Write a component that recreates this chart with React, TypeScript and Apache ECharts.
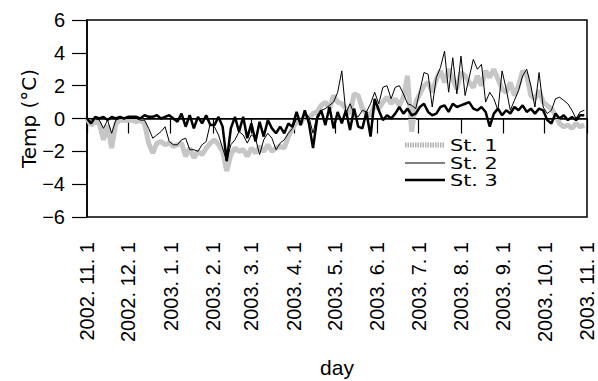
import React, { useEffect, useRef } from 'react';
import * as echarts from 'echarts';

// sampling step of the series (days since 2002-11-01)
const STEP_DAYS = 3;

// x-axis ticks: days since 2002-11-01 at the first of each month
const monthTickDays = [0, 30, 61, 92, 120, 151, 181, 212, 242, 273, 304, 334, 365];
const monthTickLabels = [
  '2002. 11. 1', '2002. 12. 1', '2003. 1. 1', '2003. 2. 1', '2003. 3. 1', '2003. 4. 1',
  '2003. 5. 1', '2003. 6. 1', '2003. 7. 1', '2003. 8. 1', '2003. 9. 1', '2003. 10. 1', '2003. 11. 1',
];

const seriesNames = ['St. 1', 'St. 2', 'St. 3'];

// St. 1 (grey, thick)
const st1 = [
  0.0, -0.4, -0.2, -0.3, -1.3, -0.4, -1.8, -0.3, -0.1, -0.1,
  -0.1, -0.1, -0.2, -0.1, -0.3, -1.5, -2.1, -1.5, -1.4, -1.6,
  -1.5, -1.7, -1.6, -1.5, -2.3, -1.8, -2.4, -2.0, -2.2, -1.8,
  -1.5, -1.3, -1.6, -2.0, -3.2, -2.2, -1.8, -2.0, -1.9, -2.3,
  -1.8, -2.1, -1.7, -2.0, -1.6, -2.0, -1.8, -1.7, -1.8, -1.1,
  -0.6, -0.2, -0.3, 0.2, 0.0, 0.3, 0.4, 0.8, 1.0, 0.6,
  1.4, 1.0, 0.9, 0.6, 0.3, 1.5, 1.4, 0.6, 0.3, 0.2,
  0.8, 0.6, 1.0, 1.3, 0.9, 1.2, 0.8, 1.3, 2.6, -0.8,
  1.0, 1.5, 2.0, 2.2, 1.6, 2.4, 2.9, 2.2, 3.0, 2.4,
  1.8, 2.8, 2.6, 2.2, 1.9, 2.6, 2.0, 2.9, 2.5, 3.0,
  2.4, 1.8, 1.6, 2.2, 1.4, 2.0, 2.9, 2.6, 1.4, 1.2,
  1.7, 1.0, 0.8, 0.6, 0.2, -0.3, -0.5, -0.4, -0.6, -0.3,
  -0.5, -0.4,
];

// St. 2 (thin black)
const st2 = [
  0.0, -0.2, 0.0, -0.1, -0.6, -0.1, -0.9, -0.1, 0.0, 0.0,
  0.0, 0.0, 0.0, -0.1, -0.1, -0.6, -1.2, -1.0, -0.8, -0.5,
  -1.4, -1.6, -1.6, -1.3, -1.2, -1.9, -1.9, -2.0, -1.6, -1.4,
  -0.3, -0.5, -1.0, -1.8, -2.6, -1.6, -1.3, -0.8, -1.0, -1.5,
  -1.0, -1.2, -2.2, -1.3, -0.9, -1.2, -1.9, -1.5, -1.3, -0.9,
  -0.6, 0.0, -0.2, 0.3, 0.1, -0.9, 0.2, 0.5, 0.6, 0.8,
  1.0, 1.6, 2.9, 0.3, 0.9, 0.3, 0.1, 0.5, 0.4, 0.9,
  1.6, 0.9, 1.9, 2.0, 1.2, 1.9, 2.0, 1.5, 0.9, 0.8,
  0.6, 1.7, 2.8, 2.7, 0.7, 2.5, 3.1, 4.1, 1.6, 3.7,
  1.5, 3.8, 1.4, 2.5, 3.6, 3.0, 3.3, 1.0, 1.6, 1.2,
  0.5, 2.9, 1.8, 0.5, 1.1, 1.7, 2.6, 3.0, 2.0, 0.7,
  2.8, 0.7, 0.3, 0.5, 1.2, 1.3, 1.1, 0.9, 0.5, 0.0,
  0.4, 0.5,
];

// St. 3 (thick black)
const st3 = [
  0.0, -0.3, 0.1, 0.0, 0.1, -0.1, 0.1, 0.0, 0.1, 0.0,
  0.1, 0.1, 0.1, 0.0, 0.2, 0.1, 0.1, 0.2, 0.0, 0.1,
  0.2, 0.0, -0.2, 0.3, -0.5, 0.2, -0.6, 0.1, -0.3, 0.2,
  -0.4, -0.4, 0.1, -0.5, -2.6, -0.6, 0.1, -0.8, 0.1, -1.2,
  -0.3, -1.4, -0.2, -1.1, -0.1, -0.6, -0.9, -0.5, -0.9, -0.3,
  -0.5, 0.4, -0.4, 0.5, -0.3, -1.8, 0.0, 0.5, -0.4, 0.7,
  -0.6, 0.4, -0.3, 0.5, -0.7, 0.6, -0.5, -0.6, 0.4, -1.1,
  1.2, 0.5, -0.1, 0.2, 0.0, 0.3, 0.7, 0.3, 0.6, 0.2,
  0.3, 0.7, 0.9, 0.4, 0.2, 0.3, 0.7, 0.8, 0.4, 0.9,
  0.7, 0.8, 0.9, 1.0, 0.6, 0.5, 0.7, 0.4, -0.5, 0.3,
  0.6, 0.2, 0.5, 0.3, 0.7, 0.5, 0.8, 0.4, 0.6, 0.3,
  0.6, 0.5, -0.1, -0.3, 0.3, 0.0, 0.2, -0.1, 0.1, -0.1,
  0.2, 0.2,
];

const toPairs = (arr: number[]) => arr.map((v, i) => [i * STEP_DAYS, v]);

export default function App() {
  const ref = useRef<HTMLDivElement>(null);

  useEffect(() => {
    if (!ref.current) return;
    const chart = echarts.init(ref.current, undefined, { renderer: 'svg' });
    const font = 'Liberation Sans, Arial, sans-serif';

    const legendRows = [145, 163, 180];
    const legendLineStyles = [
      { stroke: '#b0b0b0', lineWidth: 5, lineDash: [1.5, 1] },
      { stroke: '#000', lineWidth: 1 },
      { stroke: '#000', lineWidth: 2.5 },
    ];
    const legendGraphics: any[] = [];
    seriesNames.forEach((name, i) => {
      legendGraphics.push({
        type: 'line',
        silent: true,
        shape: { x1: 405, y1: legendRows[i], x2: 445, y2: legendRows[i] },
        style: legendLineStyles[i],
      });
      legendGraphics.push({
        type: 'text',
        silent: true,
        x: 450,
        y: legendRows[i],
        scaleX: 1.3,
        style: {
          text: name,
          font: '16px "DejaVu Sans", sans-serif',
          fill: '#000',
          verticalAlign: 'middle',
          align: 'left',
        },
      });
    });

    chart.setOption({
      animation: false,
      backgroundColor: '#ffffff',
      textStyle: { fontFamily: font, color: '#000' },
      grid: {
        left: 87, right: 11, top: 20, bottom: 164,
        show: true, borderColor: '#000', borderWidth: 1.5,
        outerBoundsMode: 'none',
      },
      graphic: legendGraphics,
      xAxis: {
        type: 'value',
        min: 0,
        max: 365,
        name: 'day',
        nameLocation: 'middle',
        nameGap: 140,
        nameMoveOverlap: false,
        nameTextStyle: { fontSize: 21, color: '#000', fontFamily: font },
        axisLine: { show: true, lineStyle: { color: '#000', width: 1.5 } },
        splitLine: { show: false },
        axisTick: {
          show: true, inside: false, length: 15, customValues: monthTickDays,
          lineStyle: { color: '#000', width: 1.2 },
        },
        axisLabel: {
          customValues: monthTickDays,
          rotate: 90,
          margin: 25,
          fontSize: 20,
          color: '#000',
          showMinLabel: true,
          showMaxLabel: true,
          hideOverlap: false,
          formatter: (v: number) => {
            const idx = monthTickDays.indexOf(Math.round(v));
            return idx >= 0 ? monthTickLabels[idx] : '';
          },
        },
      },
      yAxis: {
        type: 'value',
        min: -6,
        max: 6,
        interval: 2,
        name: 'Temp (°C)',
        nameLocation: 'middle',
        nameGap: 48,
        nameMoveOverlap: false,
        nameTextStyle: { fontSize: 20, color: '#000', fontFamily: 'DejaVu Sans' },
        axisLine: { show: true, lineStyle: { color: '#000', width: 1.5 } },
        splitLine: { show: false },
        axisTick: { show: true, inside: false, length: 15, lineStyle: { color: '#000', width: 1.2 } },
        axisLabel: {
          margin: 22,
          fontSize: 20,
          color: '#000',
          formatter: (v: number) => String(v).replace('-', '\u2212'),
        },
      },
      series: [
        {
          name: seriesNames[0],
          type: 'line',
          data: toPairs(st1),
          symbol: 'none',
          lineStyle: { color: '#c6c6c6', width: 5 },
          itemStyle: { color: '#a8a8a8' },
          z: 1,
          markLine: {
            silent: true,
            symbol: ['none', 'none'],
            label: { show: false },
            lineStyle: { color: '#000', width: 1, type: 'solid' },
            data: [{ yAxis: 0 }],
          },
        },
        {
          name: seriesNames[1],
          type: 'line',
          data: toPairs(st2),
          symbol: 'none',
          lineStyle: { color: '#000', width: 1 },
          itemStyle: { color: '#000' },
          z: 2,
        },
        {
          name: seriesNames[2],
          type: 'line',
          data: toPairs(st3),
          symbol: 'none',
          lineStyle: { color: '#000', width: 2.5 },
          itemStyle: { color: '#000' },
          z: 3,
        },
      ],
    });
    return () => chart.dispose();
  }, []);

  return (
    <div
      ref={ref}
      style={{ position: 'fixed', left: 0, top: 0, width: 598, height: 381, background: '#fff' }}
    />
  );
}
